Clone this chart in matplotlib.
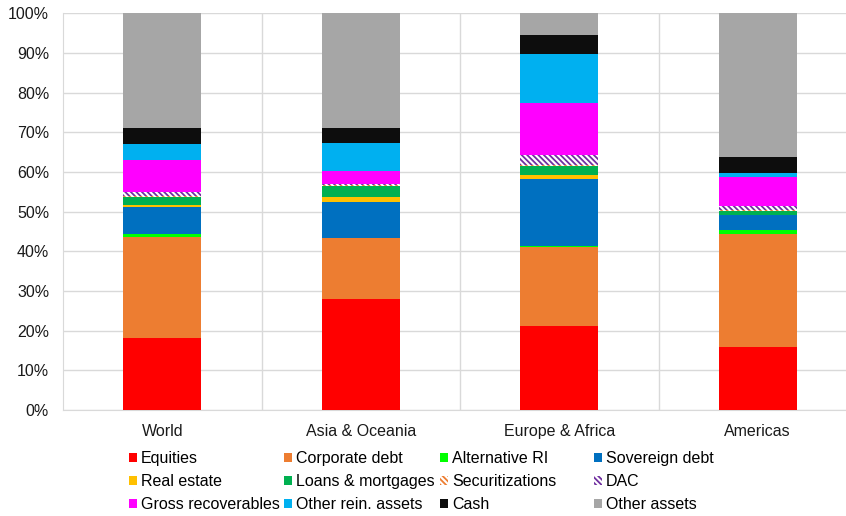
import matplotlib.pyplot as plt
import numpy as np
from matplotlib.patches import Patch
from matplotlib.ticker import PercentFormatter

plt.rcParams['font.family'] = ['Liberation Sans', 'DejaVu Sans']
plt.rcParams['hatch.linewidth'] = 1.3

regions = ['World', 'Asia & Oceania', 'Europe & Africa', 'Americas']
assets = ['Equities', 'Corporate debt', 'Alternative RI', 'Sovereign debt',
          'Real estate', 'Loans & mortgages', 'Securitizations', 'DAC',
          'Gross recoverables', 'Other rein. assets', 'Cash', 'Other assets']

# share of total assets (%), one list per region, same order as assets
world = [18.1, 25.5, 0.8, 6.9, 0.4, 2.0, 0.2, 1.0, 8.2, 4.0, 4.0, 28.9]
asia_oceania = [27.9, 15.4, 0.0, 9.2, 1.2, 2.7, 0.3, 0.3, 3.3, 7.1, 3.6, 29.0]
europe_africa = [21.3, 19.9, 0.1, 16.9, 1.0, 2.3, 0.4, 2.3, 13.3, 12.3, 4.7, 5.5]
americas = [15.8, 28.5, 1.2, 3.6, 0.1, 1.1, 0.2, 0.9, 7.4, 0.9, 4.0, 36.3]

colors = ['#ff0000', '#ed7d31', '#00ff00', '#0070c0', '#ffc000', '#00b050',
          'white', 'white', '#ff00ff', '#00b0f0', '#0d0d0d', '#a6a6a6']
hatch_colors = {6: '#ed7d31', 7: '#7030a0'}
HATCH = '\\' * 6

shares = np.array([world, asia_oceania, europe_africa, americas])

fig = plt.figure(figsize=(8.46, 5.16), dpi=100)
ax = fig.add_axes([63 / 846, 106 / 516, 794 / 846, 396.5 / 516])

x = np.arange(len(regions))
bottom = np.zeros(len(regions))
handles = []
for i, name in enumerate(assets):
    if i in hatch_colors:
        ax.bar(x, shares[:, i], 0.393, bottom=bottom, color='white',
               edgecolor=hatch_colors[i], hatch=HATCH, linewidth=0, zorder=3)
        handles.append(Patch(facecolor='white', edgecolor=hatch_colors[i],
                             hatch=HATCH, linewidth=0))
    else:
        ax.bar(x, shares[:, i], 0.393, bottom=bottom, color=colors[i],
               linewidth=0, zorder=3)
        handles.append(Patch(facecolor=colors[i], linewidth=0))
    bottom += shares[:, i]

ax.set_xlim(-0.5, 3.5)
ax.set_ylim(0, 100)
ax.set_yticks(np.arange(0, 101, 10))
ax.yaxis.set_major_formatter(PercentFormatter(decimals=0))
ax.set_xticks(x)
ax.set_xticklabels(regions)
ax.tick_params(axis='both', length=0, labelsize=11.5, colors='#1a1a1a')
ax.tick_params(axis='y', pad=10)
ax.tick_params(axis='x', pad=10)

ax.grid(axis='y', color='#d9d9d9', linewidth=1, zorder=0)
for b in [0.5, 1.5, 2.5]:
    ax.axvline(b, color='#d9d9d9', linewidth=1, zorder=0)
for side in ['top', 'right']:
    ax.spines[side].set_visible(False)
for side in ['left', 'bottom']:
    ax.spines[side].set_color('#d9d9d9')

# legend laid out as four fixed-width columns
col_x = [129, 284, 440, 594]
for c in range(4):
    idx = [c, c + 4, c + 8]
    fig.legend([handles[k] for k in idx], [assets[k] for k in idx],
               loc='upper left', bbox_to_anchor=(col_x[c] / 846, 1 - 451 / 516),
               frameon=False, fontsize=11.5, handlelength=0.5, handleheight=0.5,
               handletextpad=0.25, labelspacing=0.5, borderpad=0, borderaxespad=0)

fig.savefig('out.png', dpi=100)
